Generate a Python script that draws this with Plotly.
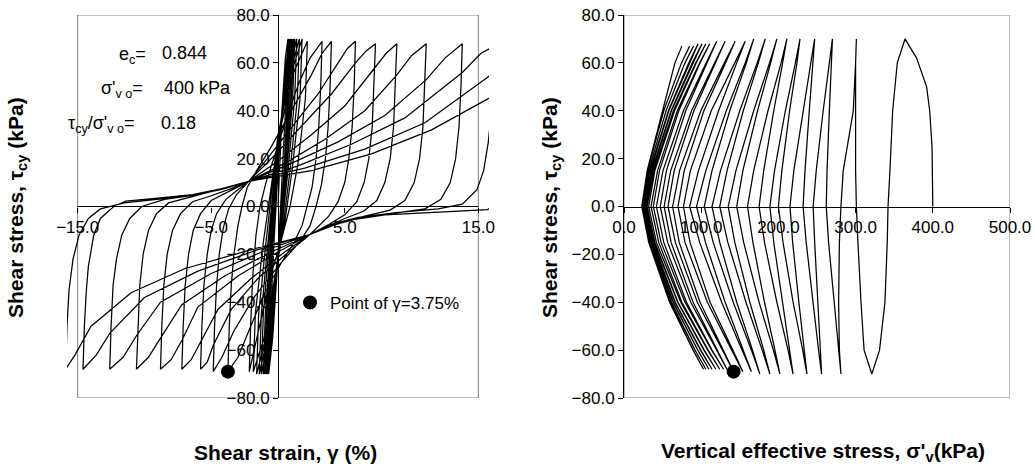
import plotly.graph_objects as go

# ------------------------------------------------------------------
# Data
# ------------------------------------------------------------------
# peak shear stresses of each cycle (kPa): positive peaks P1..P20, negative N1..N19
TAU_TOP = [70, 70, 70, 70, 70, 70, 70, 70, 70, 69, 69, 69, 69, 68, 68, 68, 68, 67, 67, 67]
TAU_BOT = [-70, -70, -70, -70, -70, -70, -70, -70, -69, -69, -69, -69, -68, -68, -68, -68, -68, -68, -68]

# ---- left chart: shear strain (%) / shear stress (kPa), half-cycles in time order
initial_loading = [(0, 0), (0.15, 20), (0.35, 45), (0.55, 62), (0.75, 70)]
half_cycles = [
    [(0.75, 70), (0.6, 45), (0.35, 15), (0.15, -5), (-0.1, -30), (-0.4, -55), (-0.7, -70)],
    [(-0.7, -70), (-0.55, -45), (-0.3, -15), (-0.1, 5), (0.15, 30), (0.5, 55), (0.85, 70)],
    [(0.85, 70), (0.7, 45), (0.45, 15), (0.2, -5), (-0.1, -30), (-0.45, -55), (-0.8, -70)],
    [(-0.8, -70), (-0.65, -45), (-0.4, -15), (-0.15, 5), (0.15, 30), (0.55, 55), (0.95, 70)],
    [(0.95, 70), (0.8, 45), (0.5, 15), (0.25, -5), (-0.1, -30), (-0.5, -55), (-0.9, -70)],
    [(-0.9, -70), (-0.75, -45), (-0.45, -15), (-0.2, 5), (0.15, 30), (0.6, 55), (1.05, 70)],
    [(1.05, 70), (0.9, 45), (0.55, 15), (0.25, -5), (-0.1, -30), (-0.55, -55), (-1.0, -70)],
    [(-1.0, -70), (-0.85, -45), (-0.5, -15), (-0.25, 5), (0.15, 30), (0.65, 55), (1.15, 70)],
    [(1.15, 70), (1.0, 45), (0.6, 15), (0.3, -5), (-0.15, -30), (-0.6, -55), (-1.1, -70)],
    [(-1.1, -70), (-0.95, -45), (-0.55, -15), (-0.3, 5), (0.1, 30), (0.7, 55), (1.25, 70)],
    [(1.25, 70), (1.1, 45), (0.65, 15), (0.3, -5), (-0.2, -30), (-0.7, -55), (-1.25, -70)],
    [(-1.25, -70), (-1.1, -45), (-0.65, -15), (-0.35, 5), (0.05, 30), (0.75, 55), (1.4, 70)],
    [(1.4, 70), (1.25, 45), (0.75, 15), (0.35, -5), (-0.2, -30), (-0.8, -55), (-1.4, -70)],
    [(-1.4, -70), (-1.25, -45), (-0.75, -15), (-0.4, 5), (0.05, 30), (0.85, 55), (1.6, 70)],
    [(1.6, 70), (1.45, 45), (0.9, 15), (0.45, -5), (-0.2, -30), (-0.9, -55), (-1.6, -70)],
    [(-1.6, -70), (-1.45, -45), (-0.9, -15), (-0.5, 5), (0, 30), (0.95, 55), (1.8, 70)],
    [(1.8, 70), (1.65, 45), (1.05, 15), (0.55, -5), (-0.25, -30), (-1.05, -55), (-1.85, -69)],
    [(-1.85, -69), (-1.7, -45), (-1.1, -15), (-0.6, 5), (0, 28), (1.1, 55), (2.2, 69)],
    [(2.2, 69), (2.05, 45), (1.5, 18), (0.9, 0), (0.2, -15), (-0.5, -28), (-1.4, -50), (-2.15, -69)],
    [(-2.15, -69), (-2.05, -50), (-1.9, -30), (-1.65, -12), (-1.35, 0), (-0.9, 10), (-0.2, 22),
     (0.7, 38), (1.6, 52), (2.4, 62), (3.3, 69)],
    [(3.3, 69), (3.2, 50), (3.05, 33), (2.85, 20), (2.55, 8), (2.2, 0), (1.8, -8), (1.2, -15),
     (0.2, -24), (-1.0, -36), (-2.2, -52), (-3.0, -63), (-3.75, -69)],
    [(-3.75, -69), (-3.65, -50), (-3.5, -33), (-3.3, -20), (-3.0, -8), (-2.7, 0), (-2.3, 8),
     (-1.6, 15), (-0.5, 25), (1.0, 40), (2.5, 55), (3.3, 64), (4.0, 69)],
    [(4.0, 69), (3.9, 50), (3.75, 33), (3.55, 20), (3.25, 9), (2.85, 0), (2.4, -8), (1.6, -15),
     (0, -25), (-1.8, -38), (-3.3, -52), (-4.2, -63), (-4.85, -69)],
    [(-4.85, -69), (-4.75, -50), (-4.6, -33), (-4.4, -20), (-4.1, -9), (-3.7, -1), (-3.1, 5),
     (-2.2, 10.5), (-0.8, 20), (1.0, 33), (3.0, 47), (4.5, 60), (5.2, 66), (5.8, 69)],
    [(5.8, 69), (5.7, 50), (5.55, 33), (5.3, 20), (5.0, 10), (4.5, 2), (3.8, -4), (3.0, -8.5),
     (2.4, -11.7), (0.8, -19), (-1.5, -30), (-3.5, -43), (-4.85, -58), (-5.3, -65), (-5.8, -68)],
    [(-5.8, -68), (-5.7, -50), (-5.55, -33), (-5.3, -20), (-5.0, -10), (-4.6, -3), (-3.9, 3),
     (-3.0, 7), (-2.2, 10.5), (-0.5, 20), (1.5, 32), (4.0, 47), (5.8, 60), (6.6, 65), (7.3, 68)],
    [(7.3, 68), (7.2, 50), (7.05, 33), (6.8, 20), (6.45, 10), (5.9, 2), (5.0, -3.5), (3.8, -7.5),
     (2.4, -11.7), (0.5, -19), (-2, -30), (-4.5, -43), (-5.8, -57), (-6.5, -64), (-7.2, -68)],
    [(-7.2, -68), (-7.1, -50), (-6.95, -33), (-6.7, -20), (-6.35, -10), (-5.8, -3), (-5.0, 2.5),
     (-3.8, 6), (-2.2, 10.5), (0, 19), (2.5, 30), (5.0, 42), (7.3, 58), (8.1, 64), (8.9, 68)],
    [(8.9, 68), (8.8, 50), (8.65, 33), (8.4, 20), (8.0, 10), (7.4, 2.5), (6.4, -2), (5.0, -5),
     (3.6, -8.5), (2.4, -11.7), (0, -19), (-3, -29), (-6, -42), (-7.2, -56), (-8, -64), (-8.8, -68)],
    [(-8.8, -68), (-8.7, -50), (-8.55, -33), (-8.3, -20), (-7.9, -10), (-7.3, -3), (-6.4, 2),
     (-5.0, 4.5), (-3.5, 7.5), (-2.2, 10.5), (0.5, 18), (3.5, 28), (6.5, 40), (8.9, 55), (10.0, 63),
     (11.1, 68)],
    [(11.1, 68), (11.0, 50), (10.85, 33), (10.6, 20), (10.2, 10), (9.5, 2.5), (8.4, -1.5), (6.5, -4),
     (4.5, -7), (2.4, -11.7), (-0.5, -19), (-4, -29), (-7.2, -41), (-8.8, -55), (-9.7, -63), (-10.6, -68)],
    [(-10.6, -68), (-10.5, -50), (-10.35, -33), (-10.1, -20), (-9.7, -10), (-9.1, -3), (-8.2, 1.5),
     (-6.5, 4), (-4.5, 7), (-2.2, 10.5), (1.0, 18), (4.5, 27), (8.0, 38), (11.1, 53), (12.5, 62),
     (13.8, 68)],
    [(13.8, 68), (13.7, 50), (13.55, 33), (13.3, 20), (12.9, 10), (12.2, 3), (11.0, -1), (8.5, -3),
     (6, -5), (4, -8), (2.4, -11.7), (-1, -18.5), (-5, -28), (-8.8, -40), (-10.6, -54), (-11.6, -63),
     (-12.6, -68)],
    [(-12.6, -68), (-12.5, -50), (-12.35, -33), (-12.1, -22), (-11.7, -12), (-11.1, -5), (-10.2, 0),
     (-8.5, 3), (-6.0, 5), (-4.0, 7.5), (-2.2, 10.5), (1.5, 17), (5.5, 26), (9.5, 37), (13.8, 56),
     (15.2, 64), (16.2, 67)],
    [(16.2, 67), (16.1, 50), (15.95, 38), (15.75, 27), (15.4, 15), (14.9, 7), (13.8, 1), (12, -1),
     (9, -2.5), (6, -4.5), (4, -7.5), (2.4, -11.7), (-1.5, -18), (-6, -27), (-10, -38), (-12.6, -53),
     (-13.6, -62), (-14.6, -68)],
    [(-14.6, -68), (-14.5, -50), (-14.35, -35), (-14.2, -25), (-13.8, -12), (-13.3, -5), (-12.3, 0),
     (-11.4, 2.2), (-9, 3.5), (-6.4, 5), (-4.2, 7.5), (-2.2, 10.5), (2, 16), (6.5, 24), (11, 35),
     (15.7, 54), (17.5, 63), (18.5, 67)],
    [(18.5, 67), (18.4, 50), (18.2, 33), (17.8, 15), (17, 3), (15.7, -1.3), (12, -2.5), (8, -3.5),
     (5, -6), (2.4, -11.7), (-2, -18), (-7, -26), (-11, -36), (-14, -50), (-15.2, -62), (-15.9, -68)],
    [(-15.9, -68), (-15.8, -50), (-15.65, -35), (-15.35, -22), (-14.9, -12), (-14.2, -5), (-13.3, -1),
     (-11.5, 1.5), (-9, 3), (-6.5, 4.5), (-4.3, 7), (-2.2, 10.5), (2.5, 15), (7, 22), (11.5, 32),
     (15.7, 45), (19, 55), (21, 67)],
]
DOT_STRAIN = -3.75   # strain at the marked reversal (N11)

# ---- right chart: vertical effective stress (kPa) along the stress path
SV_INIT = [400, 399, 396, 392, 379]
TAU_INIT = [0, 25, 40, 50, 62]
SV_TOP = [364, 301, 270, 247, 228, 211, 198, 183, 168, 157, 144, 131, 120, 111, 106, 101, 96, 90, 85, 75]
SV_BOT = [321, 281, 256, 237, 219, 202, 189, 176, 165, 154, 142, 135, 129, 124, 119, 114, 110, 106, 103]
TAU_MID_DOWN = [60, 40, 15, 0, -15, -40, -60]
TAU_MID_UP = [-60, -40, -15, 0, 15, 40, 60]
SV_UNLOAD_MID = [
    [354, 348, 344.5, 342, 341, 338, 331],
    [300, 297, 284, 281, 279, 278, 279],
    [266, 258, 249, 245, 247, 251, 254],
    [242, 232, 220, 215, 218.5, 226.5, 234],
    [222, 209, 195, 189, 194, 205, 214.5],
    [203.5, 186.5, 168, 160, 167, 182, 195.5],
    [188.5, 168, 145, 135, 143.5, 163, 181],
    [172.5, 150, 125, 114, 124, 146, 166.5],
    [157, 132.5, 106, 94, 105.5, 131, 154.5],
    [143.5, 113, 86, 77, 85.5, 111.5, 141],
    [130, 99.5, 72, 63, 71.5, 98.5, 128.5],
    [117.5, 87.5, 60.5, 52, 61, 89.5, 121],
    [106.5, 77, 50.5, 42, 51.5, 81, 114],
    [98, 69, 43.5, 35, 45, 75, 109],
    [93, 64, 38.5, 30, 40, 70, 104],
    [88.5, 61, 36, 28, 37.5, 66.5, 99.5],
    [84, 57.5, 33.5, 26, 35, 64, 95.5],
    [79, 54.5, 32, 25, 34, 61.5, 92],
    [74.5, 51.5, 30.5, 24, 32.5, 59.5, 89.5],
]
SV_LOAD_MID = [
    [311, 307, 303, 301, 300, 300, 300],
    [278, 272, 265, 262, 263, 266, 269],
    [252, 244.5, 236, 232, 234.5, 240, 245],
    [231.5, 219, 206, 200, 204.5, 214.5, 224],
    [212.5, 198, 182, 175, 181, 194, 205.5],
    [193.5, 175, 155, 146, 154, 173, 190],
    [179, 158, 134.5, 124, 133.5, 154.5, 174],
    [165, 141.5, 115.5, 104, 114, 137, 158.5],
    [153, 126.5, 98, 85, 96.5, 122.5, 146],
    [139.5, 108, 79, 70, 78, 103.5, 131.5],
    [127.5, 95, 66.5, 57, 65, 90.5, 118.5],
    [120, 86.5, 56.5, 47, 55, 80, 107.5],
    [113.5, 79, 48, 38, 46, 71, 98.5],
    [108.5, 73.5, 42, 32, 40, 65.5, 93.5],
    [103.5, 69.5, 39, 29, 37, 61.5, 89],
    [99, 66, 36.5, 27, 34.5, 58, 84.5],
    [95.5, 63.5, 34.5, 25, 32, 54.5, 79],
    [92, 61, 33, 24, 30.5, 51.5, 74.5],
    [89.5, 59, 32, 23, 30, 50, 66],
]
SV_FINAL = [66, 50, 30, 23]          # last unloading, at TAU_MID_DOWN[:4]
DOT_INDEX = 10                       # reversal where gamma = 3.75 %

X_TICKS_LEFT = [-15, -5, 5, 15]
X_TICKS_RIGHT = [0, 100, 200, 300, 400, 500]
Y_TICKS = [-80, -60, -40, -20, 0, 20, 40, 60, 80]

# ------------------------------------------------------------------
# Assemble the paths
# ------------------------------------------------------------------
gam, tau_l = [], []
for g, t in initial_loading:
    gam.append(g); tau_l.append(t)
for hc in half_cycles:
    for g, t in hc[1:]:
        gam.append(g); tau_l.append(t)

sv = SV_INIT + [SV_TOP[0]]
tau_r = TAU_INIT + [TAU_TOP[0]]
for k in range(len(SV_BOT)):
    sv += SV_UNLOAD_MID[k] + [SV_BOT[k]]
    tau_r += TAU_MID_DOWN + [TAU_BOT[k]]
    sv += SV_LOAD_MID[k] + [SV_TOP[k + 1]]
    tau_r += TAU_MID_UP + [TAU_TOP[k + 1]]
sv += SV_FINAL
tau_r += TAU_MID_DOWN[:len(SV_FINAL)]

# ------------------------------------------------------------------
W, H = 1035, 468
FONT = "Liberation Sans, Arial, sans-serif"
def px(x): return x / W
def py(y): return 1 - y / H

Y_DOM = [py(398), py(15)]
XL_DOM = [px(67), px(489)]
XR_DOM = [px(624), px(1010)]
Y_ZERO = (Y_DOM[0] + Y_DOM[1]) / 2

fig = go.Figure()
line_style = dict(color="black", width=1.25)
fig.add_trace(go.Scatter(x=gam, y=tau_l, mode="lines", line=line_style,
                         xaxis="x", yaxis="y", showlegend=False, hoverinfo="skip"))
fig.add_trace(go.Scatter(x=sv, y=tau_r, mode="lines", line=line_style,
                         xaxis="x2", yaxis="y2", showlegend=False, hoverinfo="skip"))
fig.add_trace(go.Scatter(x=[DOT_STRAIN], y=[TAU_BOT[DOT_INDEX]], mode="markers",
                         marker=dict(color="black", size=14), xaxis="x", yaxis="y",
                         name="Point of γ=3.75%", showlegend=True))
fig.add_trace(go.Scatter(x=[SV_BOT[DOT_INDEX]], y=[TAU_BOT[DOT_INDEX]], mode="markers",
                         marker=dict(color="black", size=14), xaxis="x2", yaxis="y2",
                         showlegend=False))

tickfont = dict(family=FONT, size=17, color="black")
common = dict(showgrid=False, zeroline=False, ticks="outside", ticklen=5, tickcolor="black",
              tickfont=tickfont, tickformat=".1f", fixedrange=True, automargin=False)

fig.update_layout(
    width=W, height=H, autosize=False,
    margin=dict(l=0, r=0, t=0, b=0, pad=0, autoexpand=False),
    paper_bgcolor="white", plot_bgcolor="white",
    font=dict(family=FONT, color="black"),
    xaxis=dict(domain=XL_DOM, range=[-15.8, 15.8], tickvals=X_TICKS_LEFT, anchor="free",
               position=Y_ZERO, showline=False, **common),
    yaxis=dict(domain=Y_DOM, range=[-80, 80], tickvals=Y_TICKS, anchor="free",
               position=px(278), showline=True, linecolor="black", linewidth=1, **common),
    xaxis2=dict(domain=XR_DOM, range=[0, 500], tickvals=X_TICKS_RIGHT, anchor="free",
                position=Y_ZERO, showline=True, linecolor="black", linewidth=1, **common),
    yaxis2=dict(domain=Y_DOM, range=[-80, 80], tickvals=Y_TICKS, anchor="x2",
                showline=True, linecolor="black", linewidth=1, **common),
    legend=dict(x=px(290), y=py(303), xanchor="left", yanchor="middle",
                bgcolor="rgba(0,0,0,0)", font=dict(family=FONT, size=17, color="black"),
                itemsizing="trace"),
)

# plot boxes and the horizontal axis line of the left chart
fig.add_shape(type="rect", xref="x", yref="y", x0=-15, x1=15, y0=-80, y1=80,
              line=dict(color="#808080", width=1), layer="below")
fig.add_shape(type="rect", xref="x2", yref="y2", x0=0, x1=500, y0=-80, y1=80,
              line=dict(color="#808080", width=1), layer="below")
fig.add_shape(type="line", xref="x", yref="y", x0=-15, x1=15, y0=0, y1=0,
              line=dict(color="black", width=1))

title_font = dict(family=FONT, size=21, color="black")
ann = [
    dict(x=px(17), y=py(208), text="<b>Shear stress, τ<sub>cy</sub> (kPa)</b>", textangle=-90,
         font=title_font, xanchor="center", yanchor="middle"),
    dict(x=px(551), y=py(208), text="<b>Shear stress, τ<sub>cy</sub> (kPa)</b>", textangle=-90,
         font=title_font, xanchor="center", yanchor="middle"),
    dict(x=px(285), y=py(452), text="<b>Shear strain, γ (%)</b>", font=title_font,
         xanchor="center", yanchor="middle"),
    dict(x=px(823), y=py(452), text="<b>Vertical effective stress, σ'<sub>v</sub>(kPa)</b>",
         font=title_font, xanchor="center", yanchor="middle"),
]
txt_font = dict(family=FONT, size=18, color="black")
labels = [
    ("e<sub>c</sub>=", 148, 55, "0.844", 160),
    ("σ'<sub>v o</sub>=", 145, 90, "400 kPa", 162),
    ("τ<sub>cy</sub>/σ'<sub>v o</sub>=", 137, 125, "0.18", 159),
]
for lab, xr, yy, val, xl in labels:
    ann.append(dict(x=px(xr), y=py(yy), text=lab, font=txt_font, xanchor="right", yanchor="middle"))
    ann.append(dict(x=px(xl), y=py(yy - 2), text=val, font=txt_font, xanchor="left", yanchor="middle"))
for a in ann:
    a.update(xref="paper", yref="paper", showarrow=False)
fig.update_layout(annotations=ann)

fig.write_html("out.html", config={"displayModeBar": False, "staticPlot": True},
               post_script="document.body.style.margin='0';document.body.style.overflow='hidden';")
